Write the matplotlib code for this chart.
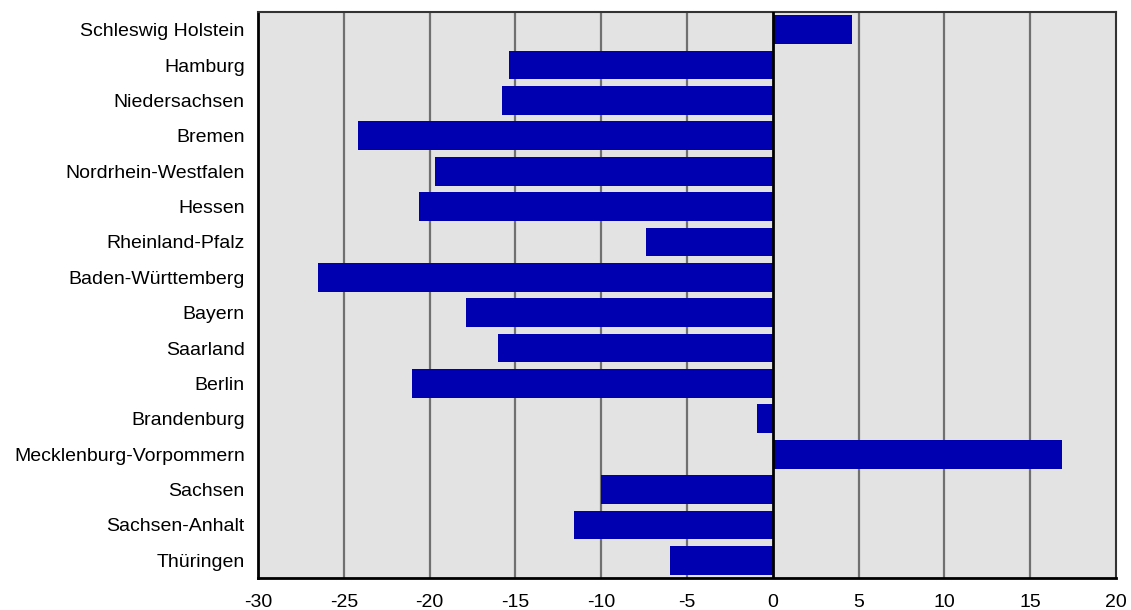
import numpy as np
import matplotlib.pyplot as plt

plt.rcParams['font.family'] = ['Liberation Sans', 'DejaVu Sans']

# Bundesländer, von oben nach unten
laender = ["Schleswig Holstein", "Hamburg", "Niedersachsen", "Bremen",
           "Nordrhein-Westfalen", "Hessen", "Rheinland-Pfalz", "Baden-Württemberg",
           "Bayern", "Saarland", "Berlin", "Brandenburg",
           "Mecklenburg-Vorpommern", "Sachsen", "Sachsen-Anhalt", "Thüringen"]
werte = [4.6, -15.4, -15.8, -24.2,
         -19.7, -20.6, -7.4, -26.5,
         -17.85, -16.0, -21.0, -0.93,
         16.86, -10.0, -11.57, -6.0]
x_ticks = [-30, -25, -20, -15, -10, -5, 0, 5, 10, 15, 20]

fig = plt.figure(figsize=(11.31, 6.10), dpi=100)
ax = fig.add_axes([258/1131, 1 - 578/610, (1116 - 258)/1131, (578 - 12)/610])
ax.set_facecolor('#e3e3e3')

pos = np.arange(len(laender))
ax.barh(pos, werte, height=0.81, color='#0000b0', zorder=3)

ax.set_xlim(-30, 20)
ax.set_ylim(len(laender) - 0.5, -0.5)
ax.set_xticks(x_ticks)
ax.set_xticklabels([str(t) for t in x_ticks], fontsize=14)
ax.set_yticks(pos)
ax.set_yticklabels(laender, fontsize=14)
ax.tick_params(axis='both', length=0)
ax.tick_params(axis='y', pad=9.5)
ax.tick_params(axis='x', pad=11.5)

# Gitterlinien
for t in x_ticks[1:-1]:
    if t == 0:
        continue
    ax.axvline(t, color='#707070', lw=1.6, zorder=1)
ax.axvline(0, color='black', lw=2, zorder=4)

for side in ['left', 'bottom']:
    ax.spines[side].set_color('black')
    ax.spines[side].set_linewidth(2)
for side in ['top', 'right']:
    ax.spines[side].set_color('#333333')
    ax.spines[side].set_linewidth(1.5)

fig.savefig('out.png', dpi=100)
